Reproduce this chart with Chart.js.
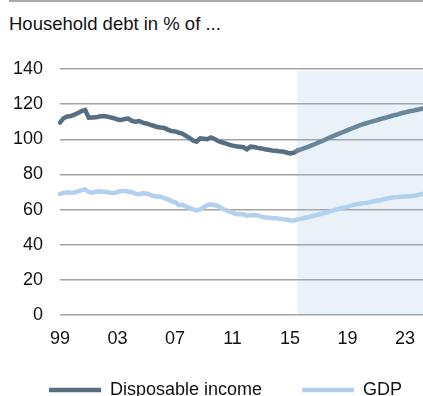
<!DOCTYPE html>
<html>
<head>
<meta charset="utf-8">
<script src="https://cdn.jsdelivr.net/npm/chart.js@4"></script>
<style>
  body { margin: 0; background: #fff; }
  .box { position: relative; width: 423px; height: 396px; font-family: "Liberation Sans", Arial, sans-serif; }
  .rule { position: absolute; left: 9px; top: 0; width: 414px; height: 2px; background: #aaa; }
  .title { position: absolute; left: 9px; top: 13px; font-size: 18.5px; line-height: 22px; color: #111; }
  canvas { position: absolute; left: 0; top: 0; }
</style>
</head>
<body>
<div class="box">
  <div class="rule"></div>
  <div class="title">Household debt in % of ...</div>
  <canvas id="debt_chart" width="423" height="396"></canvas>
</div>
<script>
// quarterly, 1999Q1 .. 2024Q2
const firstYear = 1999
const quarterCount = 102
const forecastFrom = 66 // 2015Q3, shaded from here on

const seriesNames = ['Disposable income', 'GDP']
const tickYears = ['99', '03', '07', '11', '15', '19', '23']

const disposableIncome = [
    109.5, 112, 113, 113.2, 114, 115, 116, 116.7, 112.3, 112.4,
    112.5, 113, 113.3, 113, 112.5, 112, 111.3, 111, 111.5, 111.8,
    110.5, 110, 110.4, 109.5, 109, 108.3, 107.7, 107, 106.7, 106.5,
    105.5, 104.7, 104.5, 103.8, 103.2, 102, 100.8, 99.3, 98.6, 100.5,
    100.3, 100, 101, 100.2, 99, 98.3, 97.7, 97, 96.4, 96,
    95.8, 95.5, 94.3, 95.8, 95.6, 95.1, 94.8, 94.3, 94, 93.6,
    93.5, 93.2, 93, 92.5, 92, 92.3, 93.5, 94.2, 95, 95.7,
    96.5, 97.3, 98.2, 99, 100, 101, 101.8, 102.7, 103.5, 104.3,
    105.2, 106, 106.8, 107.6, 108.4, 109, 109.6, 110.2, 110.8, 111.4,
    112, 112.5, 113.1, 113.7, 114.2, 114.8, 115.3, 115.8, 116.2, 116.7,
    117.1, 117.6
]

const gdp = [
    68.9, 69.5, 69.8, 69.6, 69.7, 70.3, 71, 71.5, 70, 69.6,
    70.2, 70.4, 70.1, 70, 69.6, 69.4, 70, 70.5, 70.6, 70.2,
    70, 69, 68.7, 69.3, 69.2, 68.5, 67.7, 67.5, 67.3, 66.5,
    65.8, 64.8, 64.3, 62.5, 62.8, 61.8, 61, 60.2, 59.4, 60.2,
    61.3, 62.6, 63, 62.5, 62, 60.8, 59.8, 59, 58.2, 57.5,
    57.4, 57.3, 56.5, 56.8, 56.9, 56.6, 56, 55.6, 55.4, 55.2,
    55, 54.8, 54.5, 54.3, 53.9, 53.7, 54.3, 54.7, 55.2, 55.6,
    56.2, 56.7, 57.2, 57.7, 58.2, 58.8, 59.5, 60.1, 60.6, 61,
    61.6, 62.2, 62.8, 63.2, 63.6, 63.8, 64.1, 64.6, 65, 65.3,
    65.8, 66.3, 66.7, 67, 67.1, 67.3, 67.4, 67.6, 67.7, 68,
    68.5, 68.9
]

const quarters = []
for (let i = 0; i < quarterCount; i++) {
    quarters.push((firstYear + Math.floor(i / 4)) + 'Q' + (i % 4 + 1))
}

// forecast band: filled from -1 up to 139
const shadeTop = quarters.map((q, i) => i >= forecastFrom ? 139 : null)

const font = { family: '"Liberation Sans", Arial, sans-serif', size: 18 }
const darkBlue = '#576e82'
const darkBlueForecast = '#6a869d'
const lightBlue = '#b3d0ee'

// push the legend right without making it wrap
const legendShift = {
    id: 'legendShift',
    afterLayout(chart) {
        chart.legend.left += 20
    }
}

const data = {
    labels: quarters,
    datasets: [
        {
            label: seriesNames[0],
            data: disposableIncome,
            borderColor: darkBlue,
            backgroundColor: darkBlue,
            borderWidth: 4.5,
            borderCapStyle: 'round',
            pointRadius: 0,
            tension: 0,
            order: 1,
            segment: {
                borderColor: ctx => ctx.p0DataIndex >= forecastFrom ? darkBlueForecast : darkBlue
            }
        },
        {
            label: seriesNames[1],
            data: gdp,
            borderColor: lightBlue,
            backgroundColor: lightBlue,
            borderWidth: 4.5,
            borderCapStyle: 'round',
            pointRadius: 0,
            tension: 0,
            order: 2
        },
        {
            label: 'forecast',
            data: shadeTop,
            borderWidth: 0,
            pointRadius: 0,
            backgroundColor: 'rgba(150,185,225,0.2)',
            fill: { value: -1 },
            order: 3
        }
    ]
}

const config = {
    type: 'line',
    data: data,
    plugins: [legendShift],
    options: {
        responsive: false,
        animation: false,
        layout: { padding: { left: 9, top: 69, right: 0, bottom: -13 } },
        plugins: {
            title: { display: false },
            tooltip: { enabled: false },
            legend: {
                position: 'bottom',
                align: 'start',
                labels: {
                    filter: item => item.datasetIndex < 2,
                    generateLabels: chart => Chart.defaults.plugins.legend.labels.generateLabels(chart).map(item => {
                        if (item.datasetIndex === 0) item.text = item.text + '    '
                        return item
                    }),
                    usePointStyle: true,
                    pointStyle: 'line',
                    pointStyleWidth: 52,
                    boxHeight: 5,
                    padding: 20,
                    color: '#111',
                    font: font
                }
            }
        },
        scales: {
            x: {
                offset: false,
                grid: { display: false },
                border: { display: false },
                afterFit: scale => {
                    scale.height = 46
                    scale.paddingRight = 0
                },
                ticks: {
                    autoSkip: false,
                    maxRotation: 0,
                    padding: 5,
                    color: '#111',
                    font: font,
                    callback: function (value, index) {
                        const q = quarters[index]
                        const yy = q.slice(2, 4)
                        return q.endsWith('Q1') && tickYears.includes(yy) ? yy : ''
                    }
                }
            },
            y: {
                min: 0,
                max: 140,
                grid: { color: '#a3a3a3', lineWidth: 1.4, drawTicks: false },
                border: { display: false },
                afterFit: scale => { scale.width = 51 },
                ticks: {
                    stepSize: 20,
                    padding: 17,
                    color: '#111',
                    font: font
                }
            }
        }
    }
}

const ctx = document.getElementById('debt_chart').getContext('2d')
const debtChart = new Chart(ctx, config)
</script>
</body>
</html>
